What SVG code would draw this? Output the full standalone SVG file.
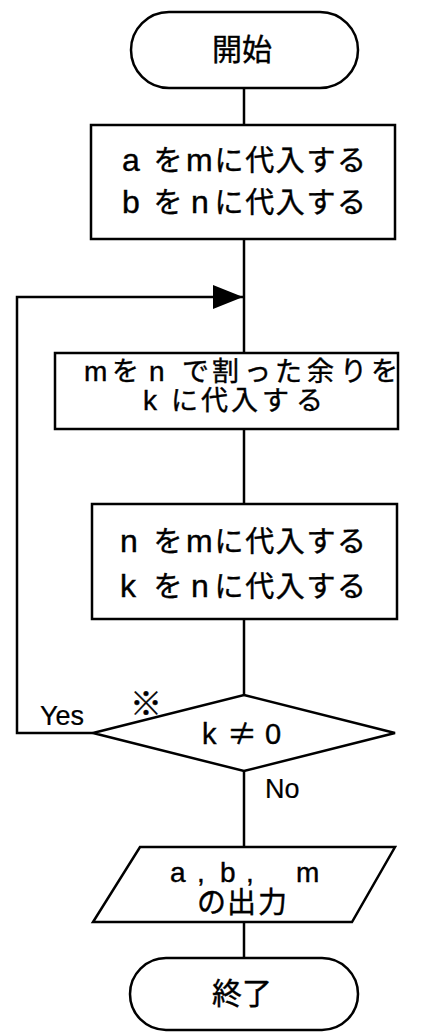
<svg xmlns="http://www.w3.org/2000/svg" width="438" height="1035" viewBox="0 0 438 1035">
<style>
.s{fill:#fff;stroke:#000;stroke-width:2.5}
.c{fill:none;stroke:#000;stroke-width:2.5}
text{font-family:"Liberation Sans","Noto Sans CJK JP",sans-serif;font-size:29px;fill:#000;stroke:#000;stroke-width:0.4}
.t{font-size:30px}
.L{font-size:32px}
.L2{font-size:28px}
.L3{font-size:28px}
.l{font-size:27px;stroke-width:0.2}
.j{font-family:"Noto Sans CJK JP",sans-serif}
</style>
<defs>
<marker id="ah" markerWidth="30" markerHeight="24" refX="30" refY="12" orient="auto" markerUnits="userSpaceOnUse">
<path d="M0,0 L30,12 L0,24 Z" fill="#000"/>
</marker>
</defs>
<rect width="438" height="1035" fill="#fff"/>
<g id="connectors">
<line class="c" x1="244" y1="88" x2="244" y2="125"/>
<line class="c" x1="244" y1="239" x2="244" y2="353"/>
<line class="c" x1="244" y1="429" x2="244" y2="504"/>
<line class="c" x1="244" y1="619" x2="244" y2="695"/>
<line class="c" x1="244" y1="771" x2="244" y2="847"/>
<line class="c" x1="244" y1="922" x2="244" y2="958"/>
<polyline class="c" points="93,733 17,733 17,297 243,297" marker-end="url(#ah)"/>
<text class="l" x="40" y="725">Yes</text>
<text class="l" x="265" y="798">No</text>
<text class="j" x="130" y="715" style="font-size:32px">※</text>
</g>
<g id="start">
<rect class="s" x="131" y="12" width="227" height="76" rx="38" ry="38"/>
<text class="t" x="242" y="60" text-anchor="middle">開始</text>
</g>
<g id="assign1">
<rect class="s" x="91" y="125" width="304" height="114"/>
<text y="171"><tspan class="L" x="122">a </tspan><tspan x="153.4">を</tspan><tspan class="L" x="186">m</tspan><tspan x="214.6 245.2 275.8 306.4 337">に代入する</tspan></text>
<text y="213"><tspan class="L" x="122">b </tspan><tspan x="153.4">を </tspan><tspan class="L" x="191">n</tspan><tspan x="214.6 245.2 275.8 306.4 337">に代入する</tspan></text>
</g>
<g id="mod">
<rect class="s" x="55" y="353" width="343" height="76"/>
<text y="381" style="font-size:27px"><tspan class="L2" x="84">m</tspan><tspan x="112">を </tspan><tspan class="L2" x="149">n </tspan><tspan x="182 212 244 275 307 340 371">で割った余りを</tspan></text>
<text y="410" style="font-size:27px"><tspan class="L2" x="143">k </tspan><tspan x="171 201 231 262 296">に代入する</tspan></text>
</g>
<g id="assign2">
<rect class="s" x="92" y="504" width="305" height="115"/>
<text y="552"><tspan class="L" x="120">n </tspan><tspan x="153.4">を</tspan><tspan class="L" x="186">m</tspan><tspan x="214.6 245.2 275.8 306.4 337">に代入する</tspan></text>
<text y="597"><tspan class="L" x="120">k </tspan><tspan x="153.4">を </tspan><tspan class="L" x="191">n</tspan><tspan x="214.6 245.2 275.8 306.4 337">に代入する</tspan></text>
</g>
<g id="cond">
<polygon class="s" points="244,695 395,733 244,771 93,733"/>
<text y="744"><tspan x="202">k </tspan><tspan class="j" x="227" style="font-size:30px">≠ </tspan><tspan x="265">0</tspan></text>
</g>
<g id="output">
<polygon class="s" points="140,847 395,847 352,922 93,922"/>
<text y="882" class="L3"><tspan x="170">a</tspan><tspan x="197">, </tspan><tspan x="220">b</tspan><tspan x="246">, </tspan><tspan x="296">m</tspan></text>
<text y="913"><tspan x="197 227 258">の出力</tspan></text>
</g>
<g id="end">
<rect class="s" x="130" y="958" width="228" height="72" rx="36" ry="36"/>
<text class="t" x="242" y="1004" text-anchor="middle">終了</text>
</g>
</svg>
